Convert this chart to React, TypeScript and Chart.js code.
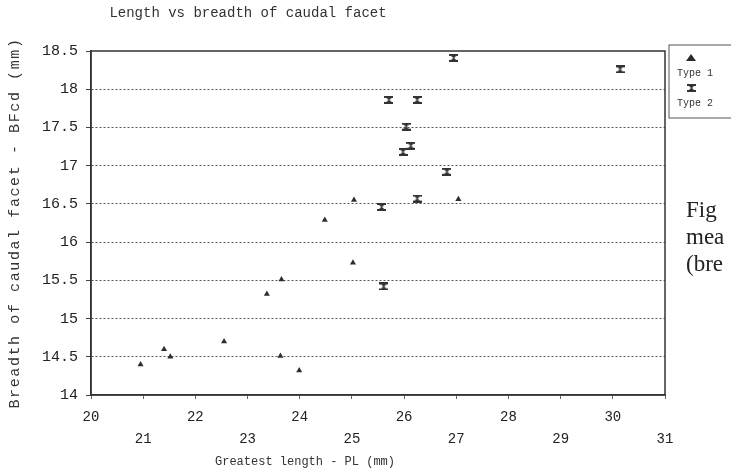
import React, { useEffect, useRef } from "react";
import { Chart, registerables } from "chart.js";

Chart.register(...registerables);

const chartTitle = "Length vs breadth of caudal facet";
const xTitle = "Greatest length - PL (mm)";
const yTitle = "Breadth of caudal facet - BFcd (mm)";
const seriesNames = ["Type 1", "Type 2"];
const sideText = ["Fig", "mea", "(bre"];

const type1X = [20.95, 21.4, 21.52, 22.55, 23.37, 23.65, 23.63, 23.99, 25.02, 24.48, 25.04, 27.04];
const type1Y = [14.4, 14.6, 14.5, 14.7, 15.32, 15.51, 14.51, 14.32, 15.73, 16.29, 16.55, 16.56];
const type2X = [26.95, 30.14, 25.71, 26.25, 26.04, 26.13, 25.98, 26.82, 26.25, 25.57, 25.61];
const type2Y = [18.41, 18.26, 17.86, 17.86, 17.51, 17.26, 17.18, 16.92, 16.57, 16.46, 15.42];

const xMin = 20;
const xMax = 31;
const yMin = 14;
const yMax = 18.5;

const MONO = "'Liberation Mono', 'DejaVu Sans Mono', monospace";
const INK = "#333";

function makeHourglass(): HTMLCanvasElement {
  const c = document.createElement("canvas");
  c.width = 9;
  c.height = 8;
  const g = c.getContext("2d")!;
  g.fillStyle = "#333";
  g.fillRect(0, 0, 9, 2);
  g.fillRect(0, 6, 9, 2);
  g.beginPath();
  g.moveTo(1, 1);
  g.lineTo(8, 1);
  g.lineTo(5, 4);
  g.lineTo(4, 4);
  g.closePath();
  g.fill();
  g.beginPath();
  g.moveTo(1, 7);
  g.lineTo(8, 7);
  g.lineTo(5, 4);
  g.lineTo(4, 4);
  g.closePath();
  g.fill();
  return c;
}

const framePlugin = {
  id: "frameAndLegend",
  afterDraw(chart: any) {
    const { ctx, chartArea } = chart;
    const midY = (chartArea.top + chartArea.bottom) / 2;
    ctx.save();
    // plot frame
    ctx.strokeStyle = INK;
    ctx.lineWidth = 1.5;
    ctx.strokeRect(chartArea.left, chartArea.top, chartArea.right - chartArea.left, chartArea.bottom - chartArea.top);

    // titles
    ctx.fillStyle = INK;
    ctx.textAlign = "center";
    ctx.textBaseline = "middle";
    ctx.font = "14px " + MONO;
    ctx.fillText(chartTitle, chartArea.left + 157, 13);
    ctx.font = "12px " + MONO;
    ctx.fillText(xTitle, chartArea.left + 214, 462);
    ctx.save();
    ctx.translate(15, midY);
    ctx.rotate(-Math.PI / 2);
    ctx.font = "15px " + MONO;
    (ctx as any).letterSpacing = "1.6px";
    ctx.fillText(yTitle, 0, 0);
    ctx.restore();

    // legend box
    const bx = chartArea.right + 4;
    const by = chartArea.top - 6;
    ctx.lineWidth = 1;
    ctx.strokeStyle = "#555";
    ctx.strokeRect(bx, by, 80, 73);
    ctx.font = "10px " + MONO;
    ctx.textBaseline = "middle";
    ctx.textAlign = "left";
    chart.data.datasets.forEach((ds: any, i: number) => {
      const my = by + 13 + i * 30;
      const ty = my + 15;
      const ps = ds.pointStyle;
      if (typeof ps === "string") {
        ctx.fillStyle = "#2a2a2a";
        ctx.beginPath();
        ctx.moveTo(bx + 22, my - 4);
        ctx.lineTo(bx + 27, my + 3);
        ctx.lineTo(bx + 17, my + 3);
        ctx.closePath();
        ctx.fill();
      } else {
        ctx.drawImage(ps, bx + 18, my - 4);
      }
      ctx.fillStyle = "#333";
      ctx.fillText(ds.label, bx + 8, ty);
    });
    ctx.restore();
  },
};

export default function App() {
  const ref = useRef<HTMLCanvasElement>(null);
  useEffect(() => {
    const hour = makeHourglass();
    const chart = new Chart(ref.current!, {
      type: "scatter",
      data: {
        datasets: [
          {
            label: seriesNames[0],
            data: type1X.map((x, i) => ({ x, y: type1Y[i] })),
            pointStyle: "triangle",
            radius: 3.5,
            backgroundColor: "#2e2e2e",
            borderColor: "#2e2e2e",
            borderWidth: 0,
          },
          {
            label: seriesNames[1],
            data: type2X.map((x, i) => ({ x, y: type2Y[i] })),
            pointStyle: hour as any,
            radius: 4,
            backgroundColor: "#2e2e2e",
            borderColor: "#2e2e2e",
          },
        ],
      },
      options: {
        responsive: false,
        animation: false,
        layout: { padding: { top: 51, right: 66, left: 0, bottom: 0 } },
        plugins: {
          legend: { display: false },
          tooltip: { enabled: false },
          title: { display: false },
        },
        scales: {
          x: {
            type: "linear",
            min: xMin,
            max: xMax,
            afterFit: (s: any) => {
              s.height = 81;
            },
            ticks: {
              stepSize: 1,
              autoSkip: false,
              maxRotation: 0,
              padding: 7,
              color: "#222",
              font: { family: MONO, size: 14, lineHeight: 22 / 14 },
              callback: (v: any) => (Number(v) % 2 === 0 ? [String(v), ""] : ["", String(v)]),
            },
            grid: { drawOnChartArea: false, drawTicks: true, tickLength: 4, color: "#666" },
            border: { color: INK, width: 1.5 },
          },
          y: {
            min: yMin,
            max: yMax,
            afterFit: (s: any) => {
              s.width = 91;
            },
            ticks: {
              stepSize: 0.5,
              padding: 8,
              color: "#222",
              font: { family: MONO, size: 15 },
              callback: (v: any) => String(v),
            },
            grid: {
              color: (c: any) => (c.tick && (c.tick.value === yMin || c.tick.value === yMax) ? "rgba(0,0,0,0)" : "#555"),
              tickColor: "#444",
              tickLength: 5,
              tickBorderDash: [],
              lineWidth: 1,
            },
            border: { color: INK, width: 1.5, dash: [2, 2] },
          },
        },
      },
      plugins: [framePlugin],
    });
    return () => chart.destroy();
  }, []);

  return (
    <div style={{ position: "absolute", left: 0, top: 0, width: 731, height: 476, overflow: "hidden", background: "#fff" }}>
      <canvas ref={ref} width={731} height={476} style={{ display: "block" }} />
      {sideText.map((t, i) => (
        <div
          key={t}
          style={{
            position: "absolute",
            left: 686,
            top: 196 + i * 27,
            fontFamily: "'Liberation Serif', 'DejaVu Serif', serif",
            fontSize: 23,
            lineHeight: "27px",
            color: "#222",
            whiteSpace: "nowrap",
          }}
        >
          {t}
        </div>
      ))}
    </div>
  );
}
